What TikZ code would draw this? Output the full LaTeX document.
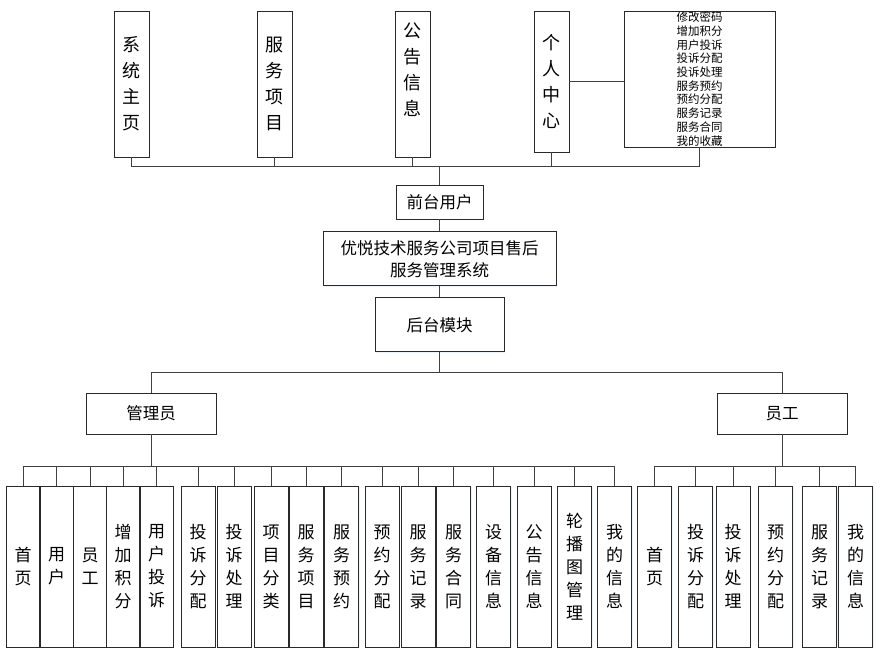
\documentclass[tikz,border=0pt]{standalone}
\usepackage{fontspec}
\setmainfont{Noto Sans CJK SC}
\usetikzlibrary{positioning,shadows}
\definecolor{inkline}{HTML}{404040}
\definecolor{edge}{HTML}{2A2A2A}
\definecolor{glow}{HTML}{E6EEF9}
\tikzset{
  plainbox/.style={rectangle,draw=edge,line width=0.9pt,fill=white,align=center,inner sep=0pt,
    drop shadow={shadow xshift=1.2pt,shadow yshift=-1.2pt,fill=glow,opacity=0.7}},
  topcol/.style={plainbox,minimum width=35pt,minimum height=146pt,font=\fontsize{18}{26}\selectfont},
  leafcol/.style={plainbox,minimum width=34pt,minimum height=161pt,font=\fontsize{17}{23}\selectfont},
  midbox/.style={plainbox,font=\fontsize{16.5}{22}\selectfont},
  link/.style={draw=inkline,line width=0.8pt}
}

\begin{document}
\begin{tikzpicture}[x=1pt,y=-1pt]
  \useasboundingbox (0,0) rectangle (884,657);
  % front end
  \node[topcol] (home) at (131.5,84) {系\\统\\主\\页};
  \node[topcol] (items) at (274.5,84) {服\\务\\项\\目};
  \node[topcol,text depth=30pt] (notice) at (412.5,84) {公\\告\\信\\息};
  \node[topcol,minimum height=141pt] (mine) at (551.5,81.5) {个\\人\\中\\心};
  \node[plainbox,minimum width=151pt,minimum height=136pt,font=\fontsize{11.5}{13.7}\selectfont] (minelist) at (699.5,79)
    {修改密码\\增加积分\\用户投诉\\投诉分配\\投诉处理\\服务预约\\预约分配\\服务记录\\服务合同\\我的收藏};
  \coordinate (topbus) at (439.5,166);

  \node[midbox,minimum width=87pt,minimum height=34pt] (front) at (439.5,202) {前台用户};
  \node[midbox,below=12pt of front,minimum width=233pt,minimum height=54pt] (sys) {优悦技术服务公司项目售后\\服务管理系统};
  \node[midbox,below=11pt of sys,minimum width=129pt,minimum height=54pt] (back) {后台模块};
  \coordinate (rolebus) at (439.5,372);

  % back end roles
  \node[midbox,minimum width=130pt,minimum height=41pt] (admin) at (151,413.5) {管理员};
  \node[midbox,minimum width=130pt,minimum height=41pt] (staff) at (782,413.5) {员工};
  \coordinate (admbus) at (151,466);
  \coordinate (stfbus) at (782,466);

  % admin pages
  \node[leafcol,minimum width=33pt] (a1) at (23,566.5) {首\\页};
  \node[leafcol,minimum width=33pt] (a2) at (56.5,566.5) {用\\户};
  \node[leafcol,minimum width=33pt] (a3) at (90,566.5) {员\\工};
  \node[leafcol,minimum width=33pt] (a4) at (123,566.5) {增\\加\\积\\分};
  \node[leafcol,minimum width=33pt] (a5) at (156.5,566.5) {用\\户\\投\\诉};
  \node[leafcol] (a6) at (198,566.5) {投\\诉\\分\\配};
  \node[leafcol] (a7) at (234,566.5) {投\\诉\\处\\理};
  \node[leafcol] (a8) at (271,566.5) {项\\目\\分\\类};
  \node[leafcol] (a9) at (306,566.5) {服\\务\\项\\目};
  \node[leafcol] (a10) at (341.5,566.5) {服\\务\\预\\约};
  \node[leafcol] (a11) at (382,566.5) {预\\约\\分\\配};
  \node[leafcol] (a12) at (418,566.5) {服\\务\\记\\录};
  \node[leafcol] (a13) at (453.5,566.5) {服\\务\\合\\同};
  \node[leafcol] (a14) at (493.5,566.5) {设\\备\\信\\息};
  \node[leafcol] (a15) at (534,566.5) {公\\告\\信\\息};
  \node[leafcol] (a16) at (574.5,566.5) {轮\\播\\图\\管\\理};
  \node[leafcol] (a17) at (614.5,566.5) {我\\的\\信\\息};

  % staff pages
  \node[leafcol] (s1) at (654.5,566.5) {首\\页};
  \node[leafcol] (s2) at (695.5,566.5) {投\\诉\\分\\配};
  \node[leafcol] (s3) at (733,566.5) {投\\诉\\处\\理};
  \node[leafcol] (s4) at (775.5,566.5) {预\\约\\分\\配};
  \node[leafcol] (s5) at (819.5,566.5) {服\\务\\记\\录};
  \node[leafcol] (s6) at (855.5,566.5) {我\\的\\信\\息};

  % connectors
  \draw[link] (topbus) -| (home.south) (topbus) -| (items.south) (topbus) -| (notice.south)
    (topbus) -| (mine.south) (topbus) -| (minelist.south);
  \draw[link] (mine.east) -- (mine.east -| minelist.west);
  \draw[link] (topbus) -- (front);
  \draw[link] (front) -- (sys);
  \draw[link] (sys) -- (back);
  \draw[link] (back) -- (rolebus);
  \draw[link] (rolebus) -| (admin);
  \draw[link] (rolebus) -| (staff);
  \draw[link] (admin) -- (admbus);
  \draw[link] (staff) -- (stfbus);
  \draw[link] (admbus) -| (a1) (admbus) -| (a2) (admbus) -| (a3) (admbus) -| (a4)
    (admbus) -| (a5) (admbus) -| (a6) (admbus) -| (a7) (admbus) -| (a8) (admbus) -| (a9)
    (admbus) -| (a10) (admbus) -| (a11) (admbus) -| (a12) (admbus) -| (a13)
    (admbus) -| (a14) (admbus) -| (a15) (admbus) -| (a16) (admbus) -| (a17);
  \draw[link] (stfbus) -| (s1) (stfbus) -| (s2) (stfbus) -| (s3)
    (stfbus) -| (s4) (stfbus) -| (s5) (stfbus) -| (s6);
\end{tikzpicture}
\end{document}
